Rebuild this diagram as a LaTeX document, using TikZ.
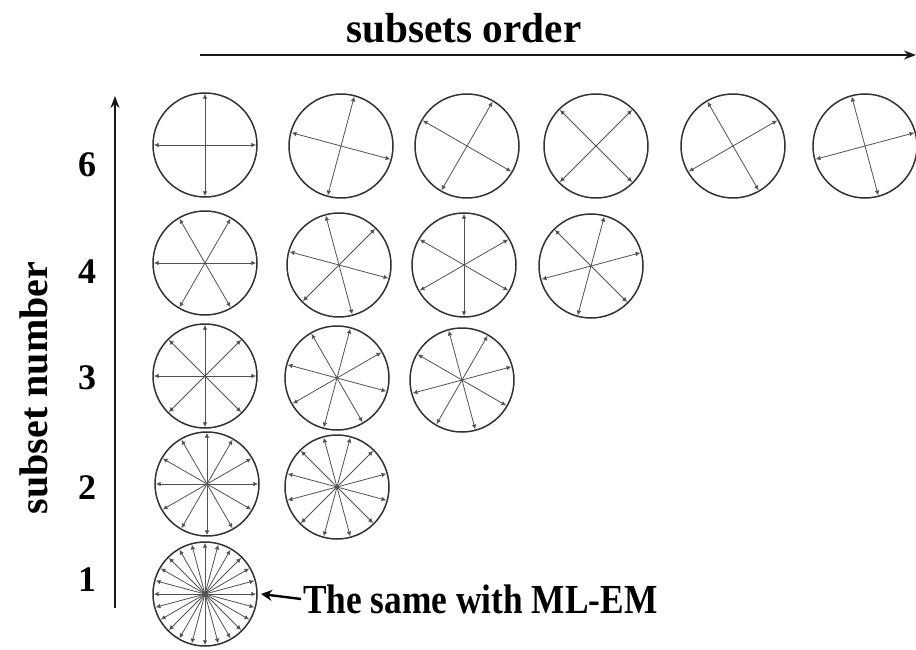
\documentclass[tikz,border=0pt]{standalone}
\usepackage{fontspec}
\setmainfont{Liberation Serif}
\usetikzlibrary{arrows.meta}
\begin{document}
\begin{tikzpicture}[x=1pt,y=-1pt,
  ring/.style={circle,draw=black!80,line width=1.5pt,minimum size=104pt,inner sep=0pt,outer sep=0pt},
  spoke/.style={draw=black!68,line width=0.8pt,{Latex[length=4.8pt,width=4.6pt]}-{Latex[length=4.8pt,width=4.6pt]},shorten <=0.9pt,shorten >=0.9pt},
  axis/.style={draw=black!90,line width=2.2pt,-{Stealth[length=12pt,width=9pt]}},
  lbl/.style={font=\fontsize{40}{40}\selectfont\bfseries,inner sep=0pt},
  num/.style={font=\fontsize{36}{36}\selectfont\bfseries,inner sep=0pt},
  note/.style={font=\fontsize{35}{35}\selectfont\bfseries,inner sep=0pt,anchor=west},
  pointer/.style={line width=2.4pt,-{Stealth[length=11pt,width=11pt]}}]
\useasboundingbox (0,0) rectangle (916,650);
\fill[white] (0,0) rectangle (916,650);

% axes
\coordinate (xs) at (200,55);
\coordinate (xe) at (916,55);
\coordinate (ys) at (115,608);
\coordinate (ye) at (115,96);
\draw[axis] (xs) -- (xe);
\draw[axis] (ys) -- (ye);

\node[lbl] (ttl) at (464,28) {\scalebox{1.03}[1.05]{subsets order}};
\node[lbl,rotate=90] (ylbl) at (34,388) {subset number};

\node[num] (n6) at (87,165) {6};
\node[num] (n4) at (87,272) {4};
\node[num] (n3) at (87,378) {3};
\node[num] (n2) at (87,488) {2};
\node[num] (n1) at (87,580) {1};

% circles with spokes
\foreach \nm/\cx/\cy/\nl/\off in {
  r6a/205/145/2/0, r6b/341/146/2/75, r6c/467/146/2/60, r6d/596/146/2/45, r6e/733/146/2/30, r6f/865/146/2/15,
  r4a/205/263/3/0, r4b/339/265/3/45, r4c/464/265/3/30, r4d/591/266/3/15,
  r3a/205/376/4/0, r3b/337/378/4/30, r3c/462/380/4/15,
  r2a/207/484/6/0, r2b/337/487/6/15,
  r1a/205/594/12/0}
{
  \node[ring] (\nm) at (\cx,\cy) {};
  \pgfmathtruncatemacro\stp{180/\nl}
  \pgfmathtruncatemacro\last{\nl-1}
  \foreach \k in {0,...,\last} {
    \pgfmathtruncatemacro\aa{\off+\k*\stp}
    \pgfmathtruncatemacro\bb{\aa+180}
    \draw[spoke] (\nm.\aa) -- (\nm.\bb);
  }
}

\node[note] (txt) at (303,599) {\scalebox{1.01}[1.18]{The same with ML-EM}};
\draw[pointer] ([xshift=-2pt]txt.west) -- ([xshift=4pt]r1a.east);
\end{tikzpicture}
\end{document}
